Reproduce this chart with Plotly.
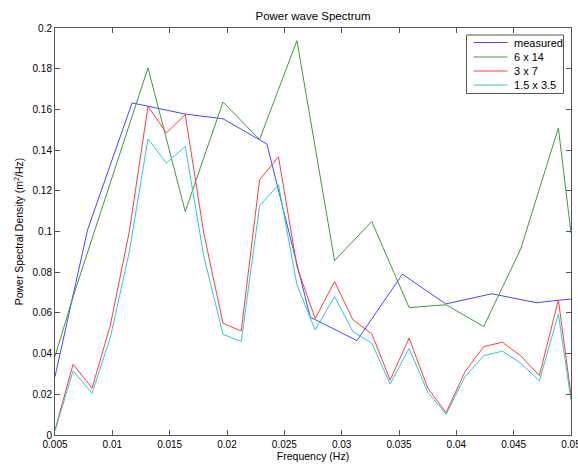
import plotly.graph_objects as go

# ---------------- data ----------------
freq_grid = [0.005, 0.00658, 0.00823, 0.00983, 0.01148, 0.01311, 0.01471, 0.01636,
             0.01798, 0.01965, 0.02124, 0.02284, 0.02449, 0.0261, 0.02769, 0.02938,
             0.03098, 0.03263, 0.03423, 0.03588, 0.03751, 0.03911, 0.04076, 0.04239,
             0.04401, 0.04562, 0.04724, 0.0489, 0.05]
red_3x7 = [0.0025, 0.0348, 0.023, 0.054, 0.100, 0.1615, 0.1484, 0.1574, 0.099, 0.0549,
           0.0511, 0.1254, 0.1367, 0.0828, 0.0572, 0.0754, 0.0566, 0.0497, 0.027, 0.0476,
           0.023, 0.011, 0.0311, 0.0434, 0.0456, 0.0389, 0.0292, 0.0664, 0.0197]
cyan_15x35 = [0.002, 0.0315, 0.0205, 0.048, 0.090, 0.1455, 0.1336, 0.1418, 0.0877, 0.0495,
              0.0459, 0.1126, 0.123, 0.0738, 0.0516, 0.068, 0.0508, 0.0451, 0.0251, 0.0426,
              0.021, 0.0102, 0.0287, 0.039, 0.0412, 0.0353, 0.0266, 0.0594, 0.0172]

freq_green = [0.005, 0.00658, 0.00983, 0.01311, 0.01636, 0.01965, 0.02284, 0.0261,
              0.02938, 0.03263, 0.03588, 0.03911, 0.04239, 0.04562, 0.0489, 0.05]
green_6x14 = [0.0386, 0.068, 0.124, 0.1804, 0.1098, 0.1636, 0.1452, 0.1938,
              0.0857, 0.1049, 0.0626, 0.064, 0.0533, 0.0915, 0.1509, 0.0992]

freq_measured = [0.005, 0.00785, 0.01172, 0.01636, 0.01965, 0.02348, 0.02726, 0.03133,
                 0.0353, 0.03908, 0.04309, 0.0470, 0.0489, 0.05]
measured = [0.0287, 0.101, 0.1632, 0.1577, 0.1554, 0.143, 0.0579, 0.0464,
            0.079, 0.0644, 0.0694, 0.065, 0.0662, 0.0668]

series_names = ["measured", "6 x 14", "3 x 7", "1.5 x 3.5"]
series_colors = ["#4646ff", "#3c9a3c", "#ff3c3c", "#2ccccc"]

x_tickvals = [0.005, 0.01, 0.015, 0.02, 0.025, 0.03, 0.035, 0.04, 0.045, 0.05]
x_ticktext = ["0.005", "0.01", "0.015", "0.02", "0.025", "0.03", "0.035", "0.04", "0.045", "0.05"]
y_tickvals = [0, 0.02, 0.04, 0.06, 0.08, 0.1, 0.12, 0.14, 0.16, 0.18, 0.2]
y_ticktext = ["0", "0.02", "0.04", "0.06", "0.08", "0.1", "0.12", "0.14", "0.16", "0.18", "0.2"]

# ---------------- figure ----------------
FONT = "Liberation Sans, Arial, Helvetica, sans-serif"
fig = go.Figure()
xs = [freq_measured, freq_green, freq_grid, freq_grid]
ys = [measured, green_6x14, red_3x7, cyan_15x35]
for x, y, name, c in zip(xs, ys, series_names, series_colors):
    fig.add_trace(go.Scatter(x=x, y=y, mode="lines", name=name,
                             line=dict(color=c, width=1), showlegend=False))

W, H = 578, 466
L, R, T, B = 55, 7, 28, 31

axis_common = dict(showline=True, linecolor="#555555", linewidth=1, mirror="ticks",
                   ticks="inside", ticklen=5, tickcolor="#555555", tickwidth=1,
                   showgrid=False, zeroline=False, ticklabeloverflow="allow",
                   tickfont=dict(family=FONT, size=10, color="#000000"))
fig.update_layout(
    width=W, height=H,
    margin=dict(l=L, r=R, t=T, b=B, pad=0),
    paper_bgcolor="white", plot_bgcolor="white",
    font=dict(family=FONT, size=10, color="#000000"),
    title=dict(text="Power wave Spectrum", x=0.5, xref="paper", xanchor="center",
               y=1 - 16 / H, yref="container", yanchor="middle",
               font=dict(family=FONT, size=11.5, color="#000000")),
    xaxis=dict(range=[0.005, 0.05], tickvals=x_tickvals, ticktext=x_ticktext,
               title=dict(text="Frequency (Hz)", standoff=2,
                          font=dict(family=FONT, size=10.5, color="#000000")),
               automargin=False, **axis_common),
    yaxis=dict(range=[0, 0.2], tickvals=y_tickvals, ticktext=y_ticktext,
               title=dict(text="Power Spectral Density (m<sup>2</sup>/Hz)", standoff=6,
                          font=dict(family=FONT, size=10.5, color="#000000")),
               automargin=False, **axis_common),
)

# ---------------- legend (MATLAB-style compact box) ----------------
pw = W - L - R
ph = H - T - B
def px(xpix):
    return (xpix - L) / pw
def py(ypix):
    return (H - B - ypix) / ph

shapes = [dict(type="rect", xref="paper", yref="paper",
               x0=px(466.5), x1=px(563.5), y0=py(93.5), y1=py(35),
               line=dict(color="#555555", width=1), fillcolor="white", layer="above")]
annotations = []
row_y = [42.5, 57, 71, 85]
for name, c, ry in zip(series_names, series_colors, row_y):
    shapes.append(dict(type="line", xref="paper", yref="paper",
                       x0=px(473.5), x1=px(507.5), y0=py(ry), y1=py(ry),
                       line=dict(color=c, width=1), layer="above"))
    annotations.append(dict(text=name, xref="paper", yref="paper",
                            x=px(511.5), y=py(ry), xanchor="left", yanchor="middle",
                            showarrow=False,
                            font=dict(family=FONT, size=11, color="#000000")))
fig.update_layout(shapes=shapes, annotations=annotations)

fig.write_html("out.html", config={"displayModeBar": False},
               post_script="document.body.style.margin='0px';document.body.style.padding='0px';")
